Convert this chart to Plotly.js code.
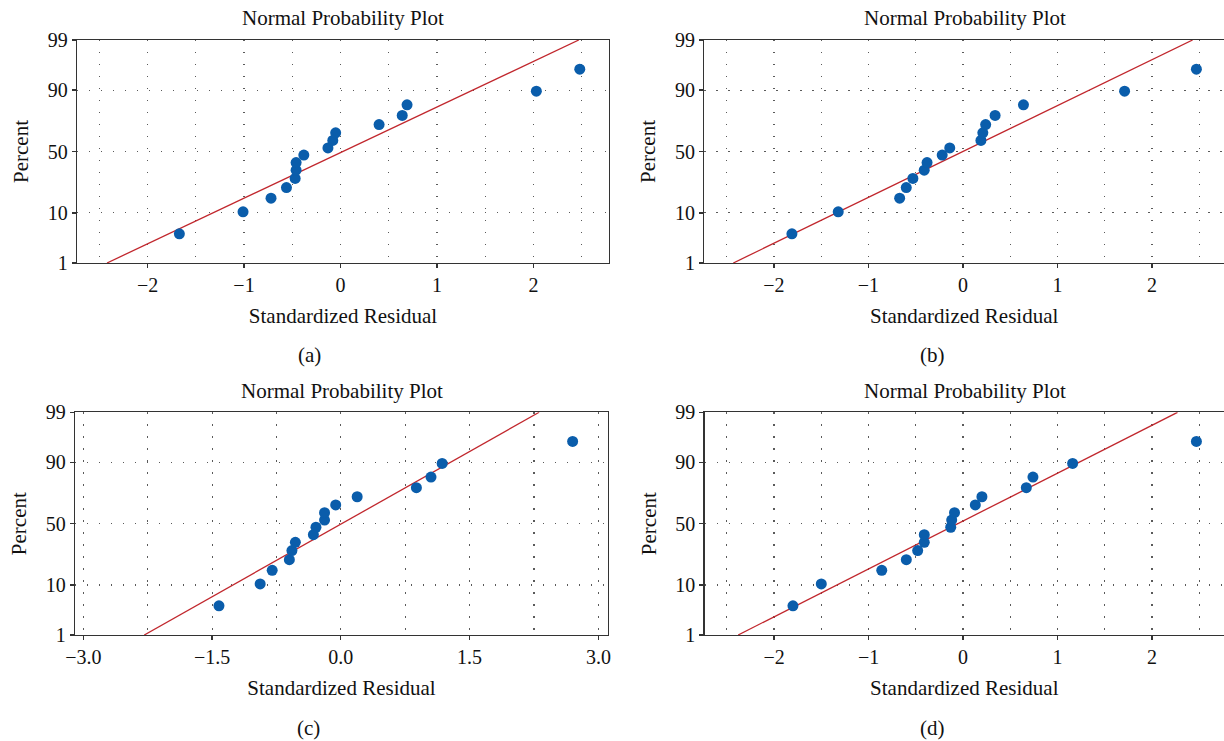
<!DOCTYPE html>
<html>
<head>
<meta charset="utf-8">
<script src="https://cdn.plot.ly/plotly-3.0.1.min.js"></script>
<style>html,body{margin:0;padding:0;background:#fff;}#chart{width:1224px;height:741px;}</style>
</head>
<body>
<div id="chart"></div>
<script>
// ---- data ----
const pct = [4.3, 10.4, 16.5, 22.6, 28.7, 34.8, 40.9, 47.0, 53.0, 59.1, 65.2, 71.3, 77.4, 83.5, 89.6, 95.7];
const resA = [-1.67, -1.01, -0.72, -0.56, -0.47, -0.46, -0.46, -0.38, -0.13, -0.08, -0.05, 0.40, 0.64, 0.69, 2.03, 2.48];
const resB = [-1.81, -1.32, -0.67, -0.60, -0.53, -0.41, -0.38, -0.22, -0.14, 0.19, 0.21, 0.24, 0.34, 0.64, 1.71, 2.47];
const resC = [-1.42, -0.94, -0.80, -0.60, -0.57, -0.53, -0.32, -0.29, -0.19, -0.19, -0.06, 0.19, 0.88, 1.05, 1.18, 2.70];
const resD = [-1.80, -1.50, -0.86, -0.60, -0.48, -0.41, -0.41, -0.13, -0.12, -0.09, 0.13, 0.20, 0.67, 0.74, 1.16, 2.47];
const fitPct = [1, 99];
const fitA = [-2.42, 2.47];
const fitB = [-2.43, 2.43];
const fitC = [-2.29, 2.31];
const fitD = [-2.38, 2.27];
const yTickPct = [1, 10, 50, 90, 99];
const yTickText = ['1', '10', '50', '90', '99'];
const panelLabels = ['(a)', '(b)', '(c)', '(d)'];
const panelTitle = 'Normal Probability Plot';
const xTitle = 'Standardized Residual';
const yTitle = 'Percent';

// inverse normal CDF (probability-scale transform of the y axis)
function probit(p) {
  const a = [-3.969683028665376e+01, 2.209460984245205e+02, -2.759285104469687e+02, 1.383577518672690e+02, -3.066479806614716e+01, 2.506628277459239e+00];
  const b = [-5.447609879822406e+01, 1.615858368580409e+02, -1.556989798598866e+02, 6.680131188771972e+01, -1.328068155288572e+01];
  const c = [-7.784894002430293e-03, -3.223964580411365e-01, -2.400758277161838e+00, -2.549732539343734e+00, 4.374664141464968e+00, 2.938163982698783e+00];
  const d = [7.784695709041462e-03, 3.224671290700398e-01, 2.445134137142996e+00, 3.754408661907416e+00];
  const pl = 0.02425, ph = 1 - pl;
  let q, r;
  if (p < pl) { q = Math.sqrt(-2 * Math.log(p));
    return (((((c[0]*q+c[1])*q+c[2])*q+c[3])*q+c[4])*q+c[5]) / ((((d[0]*q+d[1])*q+d[2])*q+d[3])*q+1); }
  if (p <= ph) { q = p - 0.5; r = q*q;
    return (((((a[0]*r+a[1])*r+a[2])*r+a[3])*r+a[4])*r+a[5])*q / (((((b[0]*r+b[1])*r+b[2])*r+b[3])*r+b[4])*r+1); }
  q = Math.sqrt(-2 * Math.log(1 - p));
  return -(((((c[0]*q+c[1])*q+c[2])*q+c[3])*q+c[4])*q+c[5]) / ((((d[0]*q+d[1])*q+d[2])*q+d[3])*q+1);
}
const z = arr => arr.map(v => probit(v / 100));

const W = 1224, H = 741;
const px = v => v / W, py = v => 1 - v / H;
const FONT = '"Liberation Serif", "Times New Roman", serif';
const BLUE = '#0a5dab', RED = '#c1272d', AX = '#333333', GRID = '#5a5a5a';
const DOTS = '1.3px,10.7px';

const panels = [
  {res: resA, fit: fitA, dom: [77, 609, 40, 263], xr: [-2.731, 2.783], dt: 1, mdt: 0.5, fmt: '', mirrorY: true},
  {res: resB, fit: fitB, dom: [704.3, 1224, 40, 263], xr: [-2.737, 2.762], dt: 1, mdt: 0.5, fmt: '', mirrorY: false},
  {res: resC, fit: fitC, dom: [75, 608, 412.3, 635], xr: [-3.097, 3.112], dt: 1.5, mdt: 0.75, fmt: '.1f', mirrorY: true},
  {res: resD, fit: fitD, dom: [704.6, 1224, 412.3, 635], xr: [-2.735, 2.762], dt: 1, mdt: 0.5, fmt: '', mirrorY: false}
];
const titlePos = [[343, 18], [965, 18], [341.5, 391], [965, 391]];
const labelPos = [[309, 355], [932, 355], [308.6, 728], [932, 728]];

const data = [], layout = {
  width: W, height: H, margin: {l: 0, r: 0, t: 0, b: 0},
  paper_bgcolor: '#fff', plot_bgcolor: '#fff', showlegend: false,
  font: {family: FONT, color: '#111', size: 20}, annotations: []
};
const yz = [probit(0.01), probit(0.99)];

panels.forEach((p, i) => {
  const n = i + 1, xs = 'x' + (n === 1 ? '' : n), ys = 'y' + (n === 1 ? '' : n);
  data.push({type: 'scatter', mode: 'lines', x: p.fit, y: z(fitPct), xaxis: xs, yaxis: ys,
    line: {color: RED, width: 1.3}, hoverinfo: 'skip'});
  data.push({type: 'scatter', mode: 'markers', x: p.res, y: z(pct), xaxis: xs, yaxis: ys,
    marker: {color: BLUE, size: 11, line: {width: 0}}});
  layout['xaxis' + (n === 1 ? '' : n)] = {
    domain: [px(p.dom[0]), px(p.dom[1])], anchor: ys, range: p.xr, dtick: p.dt, tick0: 0,
    tickformat: p.fmt, showline: true, mirror: true, linecolor: AX, linewidth: 1.3,
    ticks: 'outside', ticklen: 4, tickwidth: 1.2, tickcolor: AX, zeroline: false,
    tickfont: {family: FONT, size: 20, color: '#111'},
    showgrid: true, gridcolor: GRID, gridwidth: 1.1, griddash: DOTS,
    minor: {dtick: p.mdt, tick0: 0, showgrid: true, gridcolor: GRID, gridwidth: 1.1, griddash: DOTS, ticklen: 0},
    title: {text: xTitle, font: {family: FONT, size: 21, color: '#111'}, standoff: 13}
  };
  layout['yaxis' + (n === 1 ? '' : n)] = {
    domain: [py(p.dom[3]), py(p.dom[2])], anchor: xs, range: yz,
    tickmode: 'array', tickvals: z(yTickPct), ticktext: yTickText,
    showline: true, mirror: p.mirrorY, linecolor: AX, linewidth: 1.3,
    ticks: 'outside', ticklen: 4, tickwidth: 1.2, tickcolor: AX, zeroline: false,
    tickfont: {family: FONT, size: 20, color: '#111'},
    showgrid: true, gridcolor: GRID, gridwidth: 1.1, griddash: DOTS,
    title: {text: yTitle, font: {family: FONT, size: 21, color: '#111'}, standoff: 13}
  };
  layout.annotations.push({text: panelTitle, xref: 'paper', yref: 'paper', x: px(titlePos[i][0]), y: py(titlePos[i][1]),
    xanchor: 'center', yanchor: 'middle', showarrow: false, font: {family: FONT, size: 21, color: '#111'}});
  layout.annotations.push({text: panelLabels[i], xref: 'paper', yref: 'paper', x: px(labelPos[i][0]), y: py(labelPos[i][1]),
    xanchor: 'center', yanchor: 'middle', showarrow: false, font: {family: FONT, size: 21, color: '#111'}});
});

Plotly.newPlot('chart', data, layout, {displayModeBar: false, staticPlot: true});
</script>
</body>
</html>
